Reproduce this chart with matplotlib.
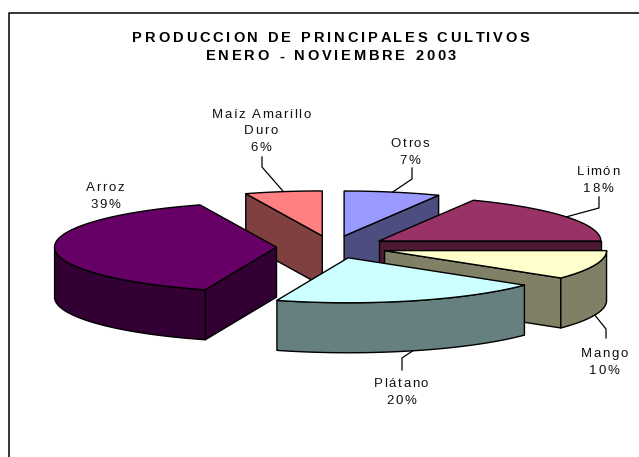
import numpy as np
import matplotlib
matplotlib.use("Agg")
import matplotlib.pyplot as plt
from matplotlib.patches import Polygon
from matplotlib.text import Text
from matplotlib.transforms import IdentityTransform

plt.rcParams['font.family'] = ['Liberation Sans', 'DejaVu Sans']

titulo = "PRODUCCION DE PRINCIPALES CULTIVOS\nENERO - NOVIEMBRE 2003"

# order as drawn clockwise from 12 o'clock
cultivos = ["Otros", "Limón", "Mango", "Plátano", "Arroz", "Maíz Amarillo\nDuro"]
valores = [7.0, 18.0, 10.4, 19.8, 39.2, 5.6]
color_top = ["#9999FF", "#993366", "#FFFFCC", "#CCFFFF", "#660066", "#FF8080"]
color_lado = ["#4D4D80", "#4D1A33", "#808066", "#668080", "#330033", "#804040"]

# pie geometry in image pixels
CX, CY = 332, 247
RX, RY = 222, 45
DEPTH = 50
EXPLODE = 0.25

# label centre and leader (x of the vertical part, its two y), None = no leader
label_pos = [(410, 151), (598, 179), (604, 361), (401, 391), (105, 195), (261, 130)]
leaders = [(412, 168, 179), (599, 197, 208), (606, 338, 329), (402, 370, 358), None, (262, 157, 167)]
# draw back to front
orden = [5, 0, 1, 2, 3, 4]


class SpacedText(Text):
    # one string, drawn with extra room between the letters
    def __init__(self, *args, spacing=0, **kw):
        super().__init__(*args, **kw)
        self.spacing = spacing

    def draw(self, renderer):
        fp = self.get_fontproperties()
        x, y = self.get_transform().transform(self.get_position())
        lines = self.get_text().split("\n")
        step = self.get_fontsize() * 1.0 / 0.72 * self.linespace_factor
        y0 = y + step * (len(lines) - 1) / 2
        for i, line in enumerate(lines):
            w = [renderer.get_text_width_height_descent(line[:k], fp, False)[0] for k in range(len(line) + 1)]
            start = x - (w[-1] + self.spacing * (len(line) - 1)) / 2
            for k, ch in enumerate(line):
                t = Text(start + w[k] + self.spacing * k, y0 - i * step, ch, fontproperties=fp,
                         color=self.get_color(), va="center_baseline", ha="left",
                         transform=IdentityTransform())
                t.set_figure(self.get_figure())
                t.draw(renderer)


def rim(theta, cx, cy):
    return cx + RX * np.sin(theta), cy - RY * np.cos(theta)


fig = plt.figure(figsize=(6.39, 4.57), dpi=100)
ax = fig.add_axes([0, 0, 1, 1])
ax.set_xlim(0, 639)
ax.set_ylim(457, 0)
ax.axis("off")

# frame, only left and top are inside the picture
ax.plot([8.5, 8.5, 639], [457, 12.5, 12.5], color="black", lw=1.1, clip_on=False)

angulos = np.cumsum([0] + valores) / sum(valores) * 2 * np.pi

for i in orden:
    a1, a2 = angulos[i], angulos[i + 1]
    mid = (a1 + a2) / 2
    cx, cy = rim(mid, 0, 0)
    cx, cy = CX + EXPLODE * cx, CY + EXPLODE * cy
    ts = np.linspace(a1, a2, 80)
    xs, ys = rim(ts, cx, cy)

    # faces turned to the viewer
    for a, vis in ((a1, np.sin(a1) < -1e-6), (a2, np.sin(a2) > 1e-6)):
        if vis:
            px, py = rim(a, cx, cy)
            ax.add_patch(Polygon([(cx, cy), (px, py), (px, py + DEPTH), (cx, cy + DEPTH)],
                                 fc=color_lado[i], ec="black", lw=1, joinstyle="round"))
    front = np.cos(ts) <= 0
    if front.any():
        fx, fy = xs[front], ys[front]
        ax.add_patch(Polygon(np.r_[np.c_[fx, fy], np.c_[fx, fy + DEPTH][::-1]],
                             fc=color_lado[i], ec="black", lw=1, joinstyle="round"))
    ax.add_patch(Polygon(np.r_[[(cx, cy)], np.c_[xs, ys]], fc=color_top[i], ec="black", lw=1, joinstyle="round"))

    # leader line to the middle of the rim
    if leaders[i] is not None:
        lx, ly1, ly2 = leaders[i]
        ex, ey = rim(mid, cx, cy)
        if np.cos(mid) < 0:
            ey += DEPTH
        ax.plot([lx, lx, ex], [ly1, ly2, ey], color="black", lw=0.9)

    pct = round(100 * valores[i] / sum(valores))
    t = SpacedText(label_pos[i][0], label_pos[i][1], f"{cultivos[i]}\n{pct}%", spacing=1.6,
                   color="#111111", fontsize=9.5, ha="center", va="center", transform=ax.transData)
    t.linespace_factor = 1.25
    ax.add_artist(t)

t = SpacedText(331, 45.5, titulo, spacing=2.85, color="black", fontsize=10.5, fontweight="bold",
               ha="center", va="center", transform=ax.transData)
t.linespace_factor = 1.3
ax.add_artist(t)

fig.savefig("out.png", dpi=100)
